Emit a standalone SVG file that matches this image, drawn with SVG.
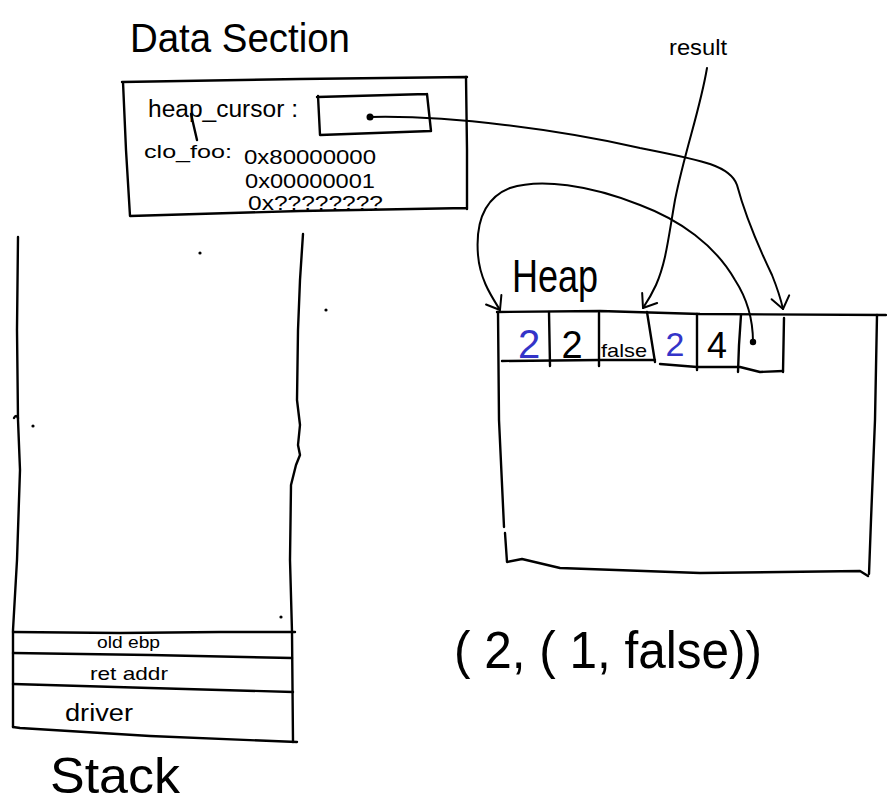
<svg xmlns="http://www.w3.org/2000/svg" width="887" height="807" viewBox="0 0 887 807">
<style>
  .ln{fill:none;stroke:#000;stroke-width:2.4;stroke-linecap:round;stroke-linejoin:round}
  .cn{fill:none;stroke:#000;stroke-width:2;stroke-linecap:round;stroke-linejoin:round}
  .t{font-family:"Liberation Sans","DejaVu Sans",sans-serif;fill:#000}
  .b{fill:#3434c8}
  .dot{fill:#000}
</style>
<defs>
  <marker id="arr" viewBox="-14 -12 16 24" markerWidth="16" markerHeight="24" refX="0" refY="0" orient="auto" markerUnits="userSpaceOnUse">
    <path d="M-12,-9 L0,0 L-12,9" fill="none" stroke="#000" stroke-width="2" stroke-linecap="round" stroke-linejoin="round"/>
  </marker>
</defs>

<g id="data-section">
  <text class="t" x="130" y="52" font-size="40" textLength="220" lengthAdjust="spacingAndGlyphs">Data Section</text>
  <path class="ln" d="M122,82 L300,79 L467,77 M123,82 L126,150 L130,216 M466,77 L467,150 L467,209 M130,216 L300,211 L467,208"/>
  <text class="t" x="148" y="117" font-size="23" textLength="150" lengthAdjust="spacingAndGlyphs">heap_cursor :</text>
  <path class="ln" d="M191,114 L197,140" stroke-width="1.8"/>
  <text class="t" x="144" y="158" font-size="19" textLength="88" lengthAdjust="spacingAndGlyphs">clo_foo:</text>
  <text class="t" x="244" y="164" font-size="20" textLength="132" lengthAdjust="spacingAndGlyphs">0x80000000</text>
  <text class="t" x="245" y="188" font-size="20" textLength="130" lengthAdjust="spacingAndGlyphs">0x00000001</text>
  <text class="t" x="248" y="210" font-size="20" textLength="135" lengthAdjust="spacingAndGlyphs">0x????????</text>
  <path class="ln" d="M317,97 L427,94 M318,96 L320,135 M427,94 L431,131 M320,135 L431,131"/>
  <circle class="dot" cx="370" cy="117" r="3.5"/>
</g>

<g id="result-label">
  <text class="t" x="669" y="55" font-size="22" textLength="58" lengthAdjust="spacingAndGlyphs">result</text>
</g>

<g id="heap">
  <text class="t" x="512" y="292" font-size="46" textLength="86" lengthAdjust="spacingAndGlyphs">Heap</text>
  <path class="ln" d="M497,312 L600,311 L700,314 L886,315"/>
  <path class="ln" d="M498,312 L499,420 L504,527 M505,533 L507,562 L522,559 L560,568 L700,573 L860,571 L868,576"/>
  <path class="ln" d="M877,315 L875,420 L871,520 L869,574"/>
  <path class="ln" d="M549,312 L550,366 M599,313 L599,366 M647,312 L655,362 M697,314 L697,370 M741,315 L739,345 L738,372 M784,318 L783,372"/>
  <path class="ln" d="M502,361 L600,360 L655,360 M660,364 L697,367 L740,367 L760,372 L783,371"/>
  <text class="t b" x="529" y="358" font-size="40" text-anchor="middle">2</text>
  <text class="t" x="572" y="358" font-size="38" text-anchor="middle">2</text>
  <text class="t" x="624" y="357" font-size="19" text-anchor="middle" textLength="46" lengthAdjust="spacingAndGlyphs">false</text>
  <text class="t b" x="675" y="356" font-size="34" text-anchor="middle">2</text>
  <text class="t" x="717" y="358" font-size="36" text-anchor="middle">4</text>
  <circle class="dot" cx="753" cy="342" r="3.2"/>
</g>

<g id="stack">
  <path class="ln" d="M18,237 L17,330 L18,420 L20,470 L17,560 L13,630 L13,727"/>
  <path class="ln" d="M14,418 Q16,414 18,418" stroke-width="2"/>
  <path class="ln" d="M303,234 L300,280 L298,330 L297,400 L300,425 L298,445 L300,455 L296,465 L291,485 L290,560 L292,632 L293,742"/>
  <path class="ln" d="M13,632 L120,633 L220,632 L295,632"/>
  <path class="ln" d="M13,653 L150,655 L292,658"/>
  <path class="ln" d="M13,684 L150,688 L293,692"/>
  <path class="ln" d="M13,727 L20,728 L150,736 L297,742"/>
  <circle class="dot" cx="200" cy="253" r="1.6"/>
  <circle class="dot" cx="326" cy="310" r="1.6"/>
  <circle class="dot" cx="33" cy="426" r="1.6"/>
  <circle class="dot" cx="281" cy="617" r="1.6"/>
  <text class="t" x="97" y="648" font-size="16" textLength="63" lengthAdjust="spacingAndGlyphs">old ebp</text>
  <text class="t" x="90" y="680" font-size="19" textLength="78" lengthAdjust="spacingAndGlyphs">ret addr</text>
  <text class="t" x="65" y="721" font-size="23" textLength="68" lengthAdjust="spacingAndGlyphs">driver</text>
  <text class="t" x="50" y="793" font-size="50" textLength="130" lengthAdjust="spacingAndGlyphs">Stack</text>
</g>

<g id="tuple">
  <text class="t" x="454" y="668" font-size="52" textLength="308" lengthAdjust="spacingAndGlyphs">( 2, ( 1, false))</text>
</g>

<g id="connectors">
  <path class="cn" d="M370,117 C 450,115 560,130 640,148 C 700,160 730,165 737,185 C 745,215 760,250 772,275 C 778,290 781,300 783,309" marker-end="url(#arr)"/>
  <path class="cn" d="M707,68 C 700,110 685,150 675,200 C 668,240 666,262 656,285 C 651,296 647,302 643,308" marker-end="url(#arr)"/>
  <path class="cn" d="M753,342 C 753,320 748,300 735,280 C 715,245 680,220 640,205 C 590,185 540,178 510,188 C 480,200 476,230 478,255 C 480,280 492,297 500,310" marker-end="url(#arr)"/>
</g>
</svg>
